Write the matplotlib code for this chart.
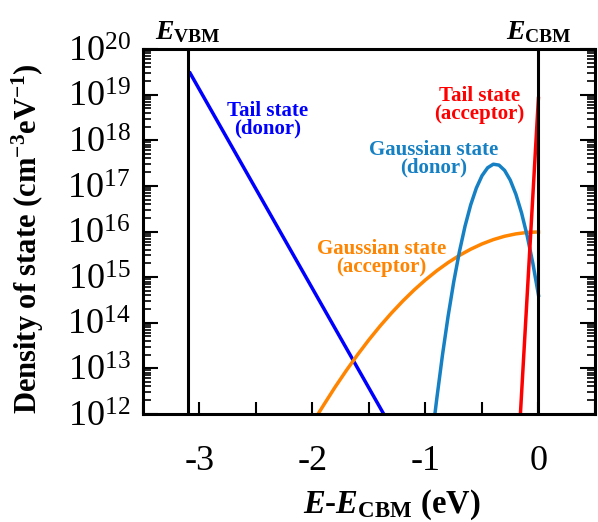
import math
import matplotlib
matplotlib.use("Agg")
import matplotlib.pyplot as plt
from matplotlib.ticker import FixedLocator, LogLocator, NullFormatter, FuncFormatter

plt.rcParams['font.family'] = ['Liberation Serif', 'DejaVu Serif']
plt.rcParams['mathtext.fontset'] = 'custom'
plt.rcParams['mathtext.rm'] = 'Liberation Serif'
plt.rcParams['mathtext.it'] = 'Liberation Serif:italic'
plt.rcParams['mathtext.bf'] = 'Liberation Serif:bold'
plt.rcParams['mathtext.bfit'] = 'Liberation Serif:italic:bold'
plt.rcParams['axes.unicode_minus'] = False

# band edges (eV, relative to CBM)
e_vbm = -3.1
e_cbm = 0.0

# donor-like tail states
tail_d_e = [-3.09, -1.37]
tail_d_n = [3.2e19, 1.0e12]

# acceptor-like tail states
tail_a_e = [-0.16, 0.0]
tail_a_n = [1.0e12, 9.0e18]

# donor-like gaussian states
gauss_d_e = [-0.92, -0.90, -0.85, -0.80, -0.75, -0.70, -0.65, -0.60, -0.55, -0.50,
             -0.45, -0.40, -0.35, -0.30, -0.25, -0.20, -0.15, -0.10, -0.05, 0.0]
gauss_d_n = [8.5e11, 2.16e12, 1.93e13, 1.38e14, 7.87e14, 3.59e15, 1.31e16, 3.83e16,
             8.95e16, 1.67e17, 2.50e17, 2.99e17, 2.86e17, 2.19e17, 1.34e17, 6.55e16,
             2.56e16, 8.02e15, 2.01e15, 4.0e14]

# acceptor-like gaussian states
gauss_a_e = [-2.0, -1.95, -1.9, -1.8, -1.7, -1.6, -1.5, -1.4, -1.3, -1.2, -1.1, -1.0,
             -0.9, -0.8, -0.7, -0.6, -0.5, -0.4, -0.3, -0.2, -0.1, 0.0]
gauss_a_n = [6.2e11, 1.0e12, 1.58e12, 3.87e12, 9.0e12, 2.0e13, 4.24e13, 8.55e13,
             1.64e14, 3.0e14, 5.24e14, 8.7e14, 1.38e15, 2.08e15, 2.99e15, 4.09e15,
             5.34e15, 6.64e15, 7.87e15, 8.87e15, 9.55e15, 9.77e15]

x_major = [-3, -2, -1, 0]
x_major_labels = ['-3', '-2', '-1', '0']
x_minor = [-3.5, -2.5, -1.5, -0.5, 0.5]

c_blue = '#0000ff'
c_red = '#ff0000'
c_orange = '#ff8400'
c_cyan = '#1580c4'

fig = plt.figure(figsize=(5.98, 5.22), dpi=100)
ax = fig.add_axes([0.239, 0.207, 0.756, 0.699])

lw = 2.5
ax.plot(tail_d_e, tail_d_n, color=c_blue, lw=lw, solid_capstyle='butt')
ax.plot(gauss_a_e, gauss_a_n, color=c_orange, lw=lw)
ax.plot(gauss_d_e, gauss_d_n, color=c_cyan, lw=lw)
ax.plot(tail_a_e, tail_a_n, color=c_red, lw=lw, solid_capstyle='butt')

ax.axvline(e_vbm, color='black', lw=2.2)
ax.axvline(e_cbm, color='black', lw=2.2)

ax.set_yscale('log')
ax.set_xlim(-3.5, 0.5)
ax.set_ylim(1e12, 1e20)

for s in ax.spines.values():
    s.set_linewidth(2.2)

ax.set_xticks(x_major, x_major_labels)
ax.xaxis.set_minor_locator(FixedLocator(x_minor))
ax.tick_params(axis='x', which='both', direction='in', length=9, width=1.5,
               labelsize=26, pad=22, top=False)

ax.yaxis.set_major_locator(LogLocator(base=10, numticks=20))
ax.yaxis.set_minor_locator(LogLocator(base=10, subs=range(2, 10), numticks=20))
ax.yaxis.set_minor_formatter(NullFormatter())
ax.yaxis.set_major_formatter(FuncFormatter(lambda v, p: r'$\mathregular{10^{%d}}$' % round(math.log10(v))))
ax.tick_params(axis='y', which='major', direction='in', length=11, width=1.5,
               labelsize=26, pad=9, right=True)
ax.tick_params(axis='y', which='minor', direction='in', length=5.5, width=1.2, right=True)

ax.set_xlabel(r'$\mathbfit{E}$-$\mathbfit{E}_{\mathbf{CBM}}$ (eV)', fontsize=23.5,
              fontweight='bold')
ax.xaxis.set_label_coords(0.551, -0.203)
ax.set_ylabel(r'Density of state (cm$^{\mathbf{-3}}$eV$^{\mathbf{-1}}$)', fontsize=22,
              fontweight='bold')
ax.yaxis.set_label_coords(-0.215, 0.48)

ax.text(e_vbm, 1.012, r'$\mathbfit{E}_{\mathbf{VBM}}$', transform=ax.get_xaxis_transform(),
        ha='center', va='bottom', fontsize=20)
ax.text(e_cbm, 1.012, r'$\mathbfit{E}_{\mathbf{CBM}}$', transform=ax.get_xaxis_transform(),
        ha='center', va='bottom', fontsize=20)

fs = 15
ax.text(-2.4, 2.8e18, 'Tail state\n(donor)', color=c_blue, fontsize=fs, fontweight='bold',
        ha='center', va='center', linespacing=0.85)
ax.text(-0.52, 6.0e18, 'Tail state\n(acceptor)', color=c_red, fontsize=fs, fontweight='bold',
        ha='center', va='center', linespacing=0.85)
ax.text(-0.93, 4.0e17, 'Gaussian state\n(donor)', color=c_cyan, fontsize=fs, fontweight='bold',
        ha='center', va='center', linespacing=0.85)
ax.text(-1.39, 2.6e15, 'Gaussian state\n(acceptor)', color=c_orange, fontsize=fs, fontweight='bold',
        ha='center', va='center', linespacing=0.85)

fig.savefig('out.png', dpi=100)
